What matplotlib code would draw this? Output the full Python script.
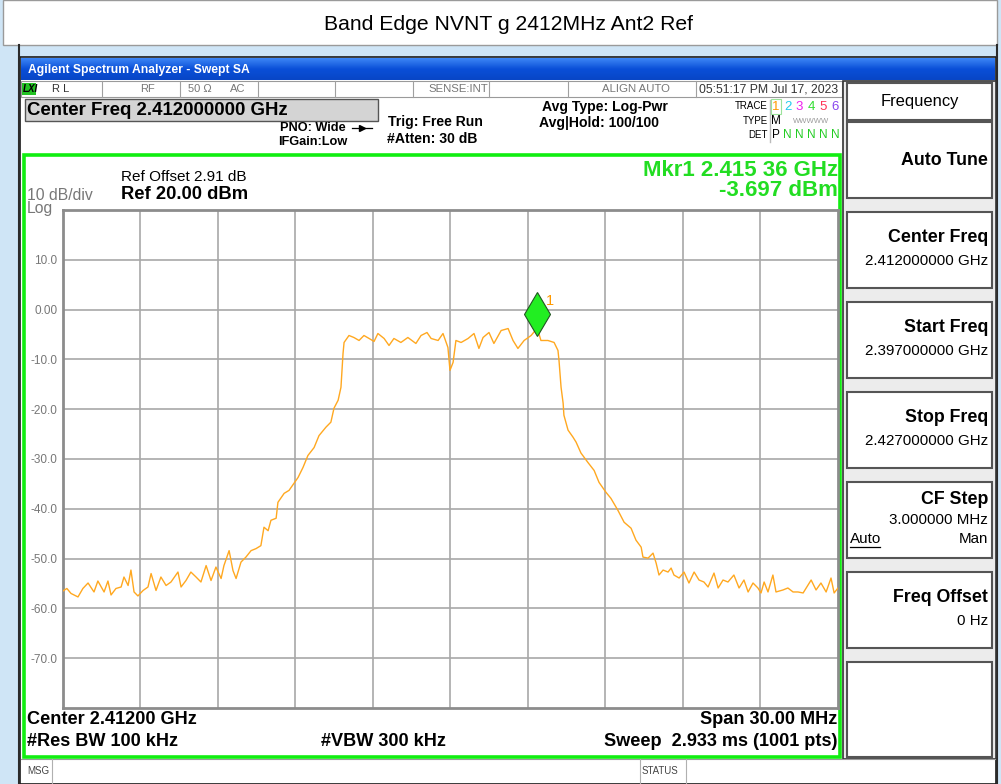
import numpy as np
import matplotlib
matplotlib.use('Agg')
import matplotlib.pyplot as plt
from matplotlib.patches import Rectangle

plt.rcParams['font.family'] = ['Liberation Sans', 'DejaVu Sans']

# sweep settings
start_mhz = 2397.0
stop_mhz = 2427.0
ref_level = 20.0
bottom_level = -80.0
ytick_values = [10, 0, -10, -20, -30, -40, -50, -60, -70]
ytick_labels = ['10.0', '0.00', '-10.0', '-20.0', '-30.0', '-40.0', '-50.0', '-60.0', '-70.0']

# trace 1 (MHz, dBm)
freq_mhz = [
    2397.00, 2397.15, 2397.31, 2397.58, 2397.77, 2397.97, 2398.20, 2398.35, 2398.59, 2398.74,
    2398.86, 2399.05, 2399.25, 2399.36, 2399.52, 2399.63, 2399.75, 2399.90, 2400.10, 2400.29,
    2400.41, 2400.60, 2400.79, 2400.99, 2401.18, 2401.45, 2401.57, 2401.76, 2401.95, 2402.15,
    2402.34, 2402.54, 2402.73, 2402.92, 2403.12, 2403.23, 2403.43, 2403.58, 2403.70, 2403.89,
    2404.08, 2404.28, 2404.47, 2404.66, 2404.78, 2404.94, 2405.05, 2405.25, 2405.32, 2405.56,
    2405.75, 2405.94, 2406.10, 2406.29, 2406.48, 2406.72, 2406.91, 2407.18, 2407.37, 2407.49,
    2407.65, 2407.76, 2407.84, 2407.88, 2408.07, 2408.26, 2408.46, 2408.65, 2408.85, 2409.04,
    2409.19, 2409.43, 2409.62, 2409.81, 2410.08, 2410.35, 2410.66, 2410.86, 2411.09, 2411.25,
    2411.52, 2411.71, 2411.90, 2411.98, 2412.10, 2412.21, 2412.41, 2412.68, 2412.91, 2413.10,
    2413.26, 2413.49, 2413.68, 2413.96, 2414.23, 2414.42, 2414.61, 2414.85, 2415.12, 2415.36,
    2415.50, 2415.77, 2416.01, 2416.16, 2416.20, 2416.28, 2416.36, 2416.39, 2416.55, 2416.74,
    2416.86, 2417.05, 2417.32, 2417.56, 2417.75, 2418.02, 2418.21, 2418.48, 2418.72, 2418.99,
    2419.18, 2419.38, 2419.45, 2419.65, 2419.84, 2419.96, 2420.07, 2420.23, 2420.42, 2420.54,
    2420.65, 2420.85, 2421.04, 2421.23, 2421.43, 2421.62, 2421.81, 2421.97, 2422.20, 2422.36,
    2422.55, 2422.74, 2422.97, 2423.17, 2423.36, 2423.52, 2423.71, 2423.90, 2424.02, 2424.14,
    2424.29, 2424.48, 2424.60, 2424.87, 2425.06, 2425.26, 2425.45, 2425.65, 2425.84, 2425.96,
    2426.15, 2426.34, 2426.54, 2426.73, 2426.85, 2427.00,
]
level_dbm = [
    -56.5, -56.0, -57.0, -57.7, -56.0, -54.9, -56.7, -54.5, -56.7, -54.5,
    -57.3, -56.0, -55.7, -53.7, -55.4, -52.3, -56.7, -57.5, -56.4, -55.7,
    -53.0, -56.4, -53.7, -55.4, -54.7, -52.7, -55.7, -54.4, -52.7, -53.7,
    -54.7, -51.4, -54.4, -51.7, -54.0, -51.4, -48.4, -52.4, -54.0, -50.7,
    -49.7, -48.4, -48.0, -47.4, -43.7, -44.4, -42.3, -41.9, -38.7, -36.9,
    -36.3, -34.9, -33.7, -31.7, -29.3, -27.7, -25.3, -23.6, -22.6, -19.8,
    -18.2, -15.6, -8.8, -6.6, -5.2, -5.6, -6.2, -5.2, -5.8, -6.4,
    -4.8, -5.8, -7.2, -5.8, -6.6, -5.6, -6.8, -5.2, -4.6, -5.8,
    -6.2, -4.8, -7.6, -12.2, -10.6, -6.2, -6.6, -5.8, -4.8, -7.8,
    -5.6, -4.6, -6.8, -4.2, -3.8, -6.2, -7.8, -6.2, -5.2, -3.7,
    -6.2, -6.2, -6.6, -8.2, -10.2, -15.6, -18.8, -21.2, -24.2, -25.6,
    -26.6, -28.8, -30.7, -32.3, -34.7, -36.7, -37.9, -40.3, -42.7, -43.9,
    -46.3, -47.7, -49.7, -49.9, -48.9, -50.9, -53.3, -52.3, -52.7, -51.9,
    -53.3, -53.9, -52.7, -54.9, -52.7, -54.3, -54.7, -55.7, -52.9, -55.9,
    -54.3, -54.7, -53.3, -55.9, -54.3, -56.7, -54.9, -55.9, -56.9, -54.7,
    -56.7, -53.3, -56.7, -56.3, -55.9, -56.7, -56.7, -56.9, -55.3, -54.3,
    -56.3, -54.9, -56.7, -53.9, -56.9, -55.9,
]

marker_freq = 2415.36
marker_level = -3.697

softkeys = [
    ('Auto Tune', None),
    ('Center Freq', '2.412000000 GHz'),
    ('Start Freq', '2.397000000 GHz'),
    ('Stop Freq', '2.427000000 GHz'),
    ('CF Step', '3.000000 MHz'),
    ('Freq Offset', '0 Hz'),
    ('', None),
]

W, H = 1001, 784
fig = plt.figure(figsize=(W / 100, H / 100), dpi=100)
fig.patch.set_facecolor('#cfe5f6')

# whole-figure pixel canvas for the instrument chrome
ui = fig.add_axes([0, 0, 1, 1])
ui.set_xlim(0, W)
ui.set_ylim(H, 0)
ui.axis('off')


def box(x0, y0, x1, y1, fc='white', ec='none', lw=1.0, z=1):
    ui.add_patch(Rectangle((x0, y0), x1 - x0, y1 - y0, facecolor=fc, edgecolor=ec, linewidth=lw, zorder=z))


def txt(x, y, s, size=9, ha='left', color='black', weight='normal', **kw):
    ui.text(x, y, s, fontsize=size, ha=ha, va='center', color=color, fontweight=weight, zorder=5, **kw)


# chart title strip
box(3, 0, 997, 45, fc='white', ec='#9a9a9a', lw=1)
txt(508, 24, 'Band Edge NVNT g 2412MHz Ant2 Ref', size=15.2, ha='center')
ui.plot([19, 19], [45, H], color='#2a2a2a', lw=1.5, zorder=2)
ui.plot([997, 997], [45, H], color='#2a2a2a', lw=1.5, zorder=2)

# analyzer window
box(20, 57, 996, H, fc='white', ec='#1a1a1a', lw=1.2)
grad = np.linspace(0, 1, 40).reshape(-1, 1)
ui.imshow(grad, extent=(21, 995, 80, 58), cmap=matplotlib.colors.LinearSegmentedColormap.from_list(
    'bar', ['#3d86f5', '#0a4fd8', '#0846c6']), aspect='auto', zorder=2)
txt(28, 70, 'Agilent Spectrum Analyzer - Swept SA', size=8.7, color='white', weight='bold')

# status row
box(21, 81, 842, 97, fc='white', ec='#9a9a9a', lw=0.8, z=2)
for xs in [102, 180, 258, 335, 413, 489, 568, 696]:
    ui.plot([xs, xs], [81, 97], color='#a0a0a0', lw=0.8, zorder=3)
box(22, 83, 36, 95, fc='#22c222', ec='none', z=3)
txt(23, 89, 'LXI', size=7, weight='bold', style='italic')
txt(52, 89, 'R L', size=8, color='#333333')
txt(140, 89, 'RF', size=8, color='#777777')
txt(188, 89, '50 Ω', size=8, color='#777777')
txt(230, 89, 'AC', size=8, color='#777777')
txt(488, 89, 'SENSE:INT', size=8.2, ha='right', color='#777777')
txt(636, 89, 'ALIGN AUTO', size=8.2, ha='center', color='#777777')
txt(699, 89, '05:51:17 PM Jul 17, 2023', size=8.8, color='#333333')

# header settings
box(25, 99, 378, 121, fc='#d4d4d4', ec='#555555', lw=1, z=2)
txt(27, 110, 'Center Freq 2.412000000 GHz', size=13.4, weight='bold')
txt(280, 128, 'PNO: Wide', size=9.2, weight='bold')
ui.plot([352, 372], [128, 128], color='black', lw=0.9, zorder=5)
ui.plot([362], [128], marker='>', color='black', markersize=4, zorder=5)
txt(278, 142, 'IFGain:Low', size=9.2, weight='bold')
txt(388, 122, 'Trig: Free Run', size=10.1, weight='bold')
txt(387, 139, '#Atten: 30 dB', size=10.1, weight='bold')
txt(542, 107, 'Avg Type: Log-Pwr', size=10.1, weight='bold')
txt(539, 123, 'Avg|Hold: 100/100', size=10.1, weight='bold')

txt(768, 106, 'TRACE', size=7, ha='right')
txt(768, 121, 'TYPE', size=7, ha='right')
txt(768, 135, 'DET', size=7, ha='right')
ui.plot([770, 770], [100, 142], color='#bbbbbb', lw=1, zorder=3)
box(771, 99, 781, 114, fc='white', ec='#9be39b', lw=0.8, z=3)
trace_colors = ['#ff9900', '#22ccee', '#ee22ee', '#33dd33', '#ff3355', '#8844ee']
for i, c in enumerate(trace_colors):
    txt(776 + i * 11.8, 107, str(i + 1), size=9.5, ha='center', color=c)
txt(776, 121, 'M', size=8.5, ha='center')
txt(811, 121, 'WWWWW', size=5.5, ha='center', color='#999999')
txt(776, 135, 'P', size=8.5, ha='center')
for i in range(5):
    txt(787.8 + i * 11.8, 135, 'N', size=8.5, ha='center', color='#22cc22')

# green measurement frame
box(24, 155, 840, 757, fc='none', ec='#11ee11', lw=2.6, z=4)
txt(121, 177, 'Ref Offset 2.91 dB', size=11)
txt(121, 194, 'Ref 20.00 dBm', size=13.2, weight='bold')
txt(27, 195, '10 dB/div', size=11.3, color='#777777')
txt(27, 208, 'Log', size=11.3, color='#777777')
txt(838, 170, 'Mkr1 2.415 36 GHz', size=16, ha='right', color='#22dd22', weight='bold')
txt(838, 190, f'{marker_level:.3f} dBm', size=16, ha='right', color='#22dd22', weight='bold')

txt(27, 720, 'Center 2.41200 GHz', size=13.1, weight='bold')
txt(27, 741, '#Res BW 100 kHz', size=13.1, weight='bold')
txt(321, 741, '#VBW 300 kHz', size=13.1, weight='bold')
txt(837, 720, 'Span 30.00 MHz', size=13.1, ha='right', weight='bold')
txt(837, 741, 'Sweep  2.933 ms (1001 pts)', size=13.1, ha='right', weight='bold')

# message row
ui.plot([21, 995], [759, 759], color='#9a9a9a', lw=0.8, zorder=3)
for xs in [52, 640, 686]:
    ui.plot([xs, xs], [759, H], color='#b0b0b0', lw=0.8, zorder=3)
txt(27, 771, 'MSG', size=7, color='#444444')
txt(642, 771, 'STATUS', size=7, color='#444444')

# softkey panel
box(843, 81, 996, 759, fc='#ececec', ec='#333333', lw=1.2, z=2)
box(847, 83, 992, 120, fc='white', ec='#555555', lw=1.5, z=3)
txt(920, 101, 'Frequency', size=11.9, ha='center')
for k, (label, value) in enumerate(softkeys):
    top = 122 + k * 90
    bot = top + 76 if k < 6 else 757
    box(847, top, 992, bot, fc='white', ec='#555555', lw=1.5, z=3)
    if not label:
        continue
    if value is None:
        txt(988, top + 38, label, size=12.8, ha='right', weight='bold')
    elif label == 'CF Step':
        txt(988, top + 17, label, size=12.8, ha='right', weight='bold')
        txt(988, top + 38, value, size=10.9, ha='right')
    else:
        txt(988, top + 25, label, size=12.8, ha='right', weight='bold')
        txt(988, top + 49, value, size=10.9, ha='right')
txt(850, 539, 'Auto', size=10.9, ha='left')
ui.plot([850, 880], [547, 547], color='black', lw=0.9, zorder=5)
txt(988, 539, 'Man', size=10.9, ha='right')

# graticule
ax = fig.add_axes([63 / W, 1 - 708 / H, 775 / W, 498 / H])
ax.set_facecolor('white')
ax.set_xlim(start_mhz, stop_mhz)
ax.set_ylim(bottom_level, ref_level)
ax.set_xticks(np.linspace(start_mhz, stop_mhz, 11)[1:-1])
ax.set_xticklabels([])
ax.set_yticks(ytick_values)
ax.set_yticklabels(ytick_labels)
ax.tick_params(length=0, labelsize=8.5, labelcolor='#777777', pad=4)
ax.grid(True, color='#a8a8a8', lw=1.2)
for s in ax.spines.values():
    s.set_color('#8c8c8c')
    s.set_linewidth(2)

ax.plot(freq_mhz, level_dbm, color='#ffa820', lw=1.0, zorder=3)
ax.plot([marker_freq], [-0.8], marker='d', markersize=22, markerfacecolor='#22ee22',
        markeredgecolor='#225522', markeredgewidth=0.8, zorder=4)
ax.text(2415.85, 1.8, '1', color='#ff9900', fontsize=10.5, ha='center', va='center', zorder=4)

fig.savefig('out.png', dpi=100)
